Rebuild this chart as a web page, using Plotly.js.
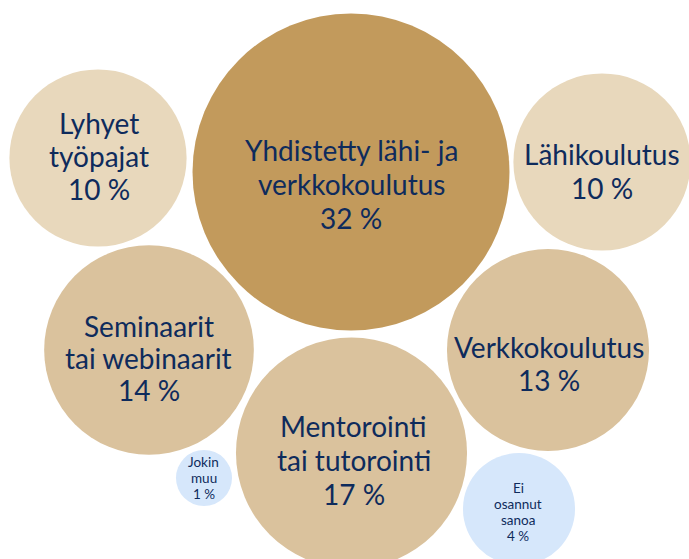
<!DOCTYPE html>
<html>
<head>
<meta charset="utf-8">
<script src="https://cdn.plot.ly/plotly-3.0.1.min.js"></script>
<style>
html,body{margin:0;padding:0;background:#fff;}
#chart{width:689px;height:559px;}
</style>
</head>
<body>
<div id="chart"></div>
<script>
// Data
var categories = [
  "Lyhyet<br>työpajat",
  "Yhdistetty lähi- ja<br>verkkokoulutus",
  "Lähikoulutus",
  "Seminaarit<br>tai webinaarit",
  "Verkkokoulutus",
  "Mentorointi<br>tai tutorointi",
  "Jokin<br>muu",
  "Ei<br>osannut<br>sanoa"
];
var values = [10, 32, 10, 14, 13, 17, 1, 4];

// Layout of bubbles (packing positions)
var bubbleX = [98, 351, 602, 149, 548, 351.5, 204, 519];
var bubbleY = [158, 172, 162, 350, 350, 453, 478, 509];
var labelX  = [99, 351, 602, 148.5, 549, 353.5, 203.5, 518];
var labelY  = [156, 183.5, 171, 358, 363, 459.5, 478, 511.5];
var colors = ["#E8D8BC", "#C29A5C", "#E8D8BC", "#DAC29D", "#DAC29D", "#DAC29D", "#D6E7FB", "#D6E7FB"];
var fontSizes = [28, 28, 28, 28, 28, 28, 13.5, 13.5];
var lineGaps  = [33, 34, 34, 32, 33, 34, 16, 16];

var maxDiameter = 317;
var maxVal = Math.max.apply(null, values);

var trace = {
  type: "scatter",
  mode: "markers",
  x: bubbleX,
  y: bubbleY,
  marker: {
    size: values,
    sizemode: "area",
    sizeref: 2 * maxVal / (maxDiameter * maxDiameter),
    color: colors,
    opacity: 1,
    line: {width: 0}
  },
  hoverinfo: "none"
};

var annotations = [];
categories.forEach(function(c, i) {
  var lines = (c + "<br>" + values[i] + " %").split("<br>");
  var n = lines.length;
  lines.forEach(function(t, k) {
    annotations.push({
      x: labelX[i], y: labelY[i] + (k - (n - 1) / 2) * lineGaps[i],
      xref: "x", yref: "y",
      text: t,
      showarrow: false,
      xanchor: "center", yanchor: "middle", align: "center",
      font: {family: "Lato, 'Open Sans', sans-serif", size: fontSizes[i], color: "#0E2B5C"}
    });
  });
});

var layout = {
  width: 689, height: 559,
  margin: {l: 0, r: 0, t: 0, b: 0, pad: 0},
  paper_bgcolor: "#ffffff",
  plot_bgcolor: "#ffffff",
  showlegend: false,
  xaxis: {range: [0, 689], visible: false, fixedrange: true},
  yaxis: {range: [559, 0], visible: false, fixedrange: true},
  annotations: annotations
};

Plotly.newPlot("chart", [trace], layout, {displayModeBar: false, staticPlot: true});
</script>
</body>
</html>
